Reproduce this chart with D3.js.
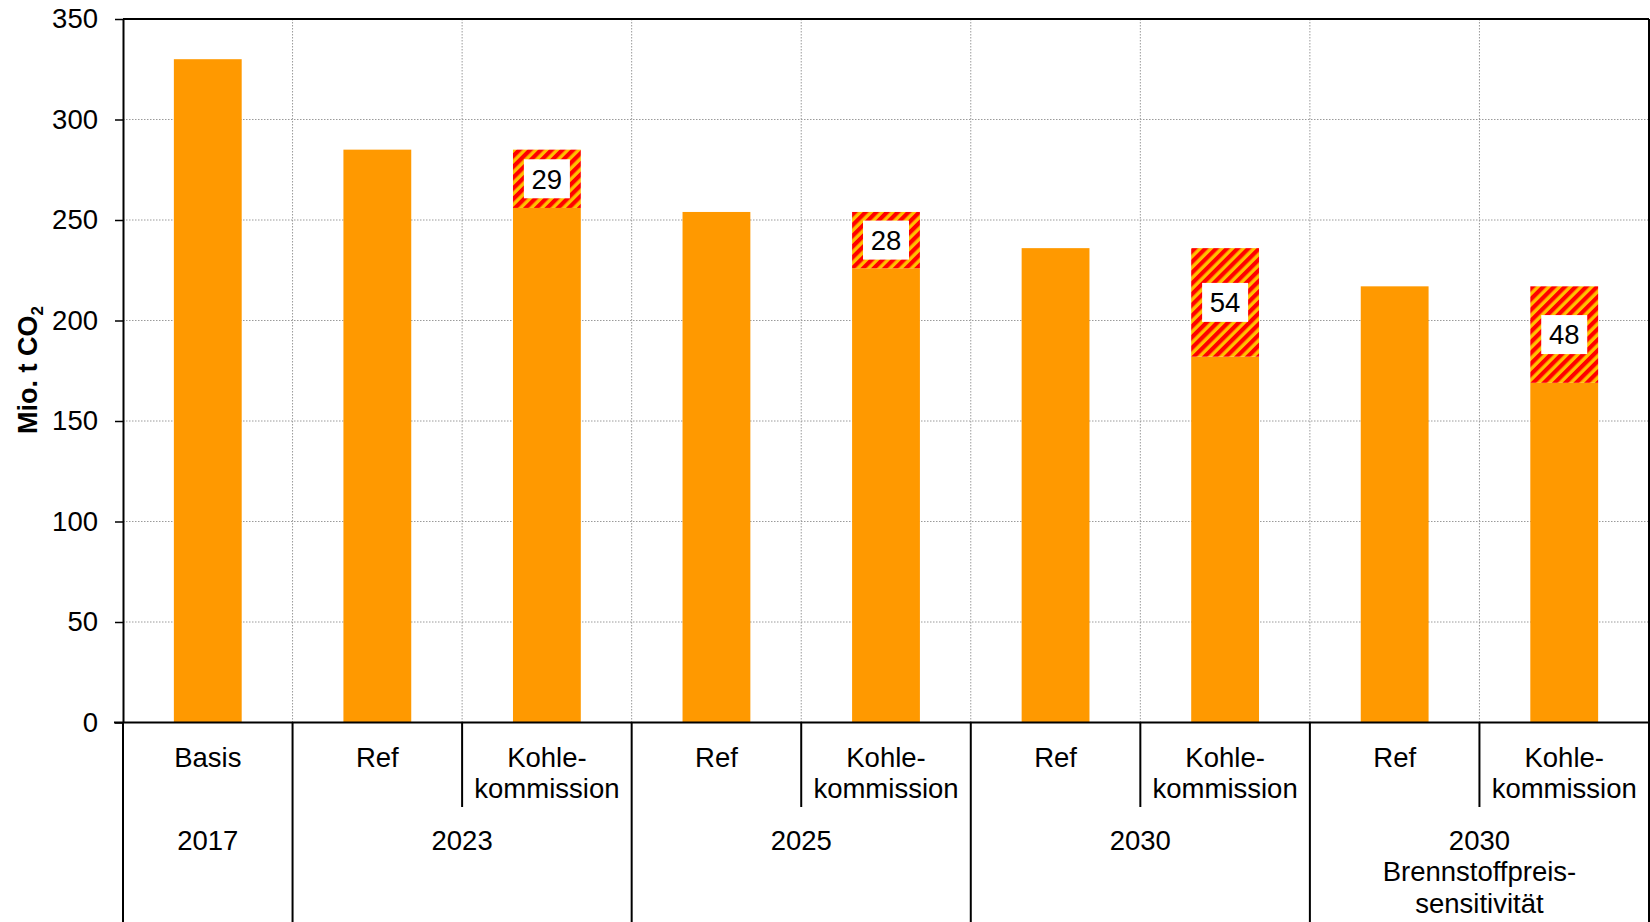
<!DOCTYPE html>
<html>
<head>
<meta charset="utf-8">
<script src="https://cdn.jsdelivr.net/npm/d3@7"></script>
<style>
  body { margin: 0; background: #fff; }
  svg { display: block; font-family: "Liberation Sans", Arial, sans-serif; }
</style>
</head>
<body>
<script>
// scenario label (first row under the axis), one per bar
var scenarios = ["Basis", "Ref", "Kohle-|kommission", "Ref", "Kohle-|kommission",
                 "Ref", "Kohle-|kommission", "Ref", "Kohle-|kommission"]
// year groups (second row) and how many bars each spans
var groupLabels = [["2017"], ["2023"], ["2025"], ["2030"], ["2030", "Brennstoffpreis-", "sensitivität"]]
var groupSpans = [1, 2, 2, 2, 2]
// remaining emissions (orange part) and reduction (hatched part), Mio. t CO2
var baseValues = [330, 285, 256, 254, 226, 236, 182, 217, 169]
var reductionValues = [0, 0, 29, 0, 28, 0, 54, 0, 48]
var yTicks = [0, 50, 100, 150, 200, 250, 300, 350]

var width = 1650, height = 922
var plotL = 123, plotR = 1649, plotT = 19, plotB = 722.5
var fs = 27.5

var svg = d3.select("body").append("svg")
  .attr("width", width)
  .attr("height", height)

var defs = svg.append("defs")
var pat = defs.append("pattern")
  .attr("id", "hatch")
  .attr("patternUnits", "userSpaceOnUse")
  .attr("width", 7.6)
  .attr("height", 7.6)
  .attr("patternTransform", "rotate(45)")
pat.append("rect").attr("width", 7.6).attr("height", 7.6).attr("fill", "#ffc000")
pat.append("rect").attr("width", 4.2).attr("height", 7.6).attr("fill", "#ff0000")

var x = d3.scaleBand()
  .domain(d3.range(scenarios.length))
  .range([plotL, plotR])
  .padding(0)

var y = d3.scaleLinear()
  .domain([0, 350])
  .range([plotB, plotT])

var barW = x.bandwidth() * 0.4

// horizontal grid
svg.append("g").selectAll("line")
  .data(yTicks.filter(function(d){ return d > 0 && d < 350 }))
  .enter().append("line")
  .attr("x1", plotL).attr("x2", plotR)
  .attr("y1", function(d){ return y(d) }).attr("y2", function(d){ return y(d) })
  .attr("stroke", "#9a9a9a")
  .attr("stroke-dasharray", "1.5,1.5")

// vertical grid between categories
svg.append("g").selectAll("line")
  .data(d3.range(1, scenarios.length))
  .enter().append("line")
  .attr("x1", function(i){ return x(i) }).attr("x2", function(i){ return x(i) })
  .attr("y1", plotT).attr("y2", plotB)
  .attr("stroke", "#9a9a9a")
  .attr("stroke-dasharray", "1.5,1.5")

// orange bars
svg.append("g").selectAll("rect")
  .data(baseValues)
  .enter().append("rect")
  .attr("x", function(d, i){ return x(i) + (x.bandwidth() - barW) / 2 })
  .attr("y", function(d){ return y(d) })
  .attr("width", barW)
  .attr("height", function(d){ return y(0) - y(d) })
  .attr("fill", "#ff9900")

// hatched reductions
var red = svg.append("g").selectAll("g")
  .data(reductionValues.map(function(v, i){ return {i: i, v: v, b: baseValues[i]} })
    .filter(function(d){ return d.v > 0 }))
  .enter().append("g")

red.append("rect")
  .attr("x", function(d){ return x(d.i) + (x.bandwidth() - barW) / 2 })
  .attr("y", function(d){ return y(d.b + d.v) })
  .attr("width", barW)
  .attr("height", function(d){ return y(d.b) - y(d.b + d.v) })
  .attr("fill", "url(#hatch)")

red.append("rect")
  .attr("x", function(d){ return x(d.i) + x.bandwidth() / 2 - 23 })
  .attr("y", function(d){ return (y(d.b) + y(d.b + d.v)) / 2 - 19.5 })
  .attr("width", 46)
  .attr("height", 39)
  .attr("fill", "#fff")

red.append("text")
  .attr("x", function(d){ return x(d.i) + x.bandwidth() / 2 })
  .attr("y", function(d){ return (y(d.b) + y(d.b + d.v)) / 2 })
  .attr("dy", "0.36em")
  .attr("text-anchor", "middle")
  .attr("font-size", fs)
  .text(function(d){ return d.v })

// y axis
var yAxis = d3.axisLeft(y).tickValues(yTicks).tickSize(8).tickSizeOuter(0)
var ya = svg.append("g")
  .attr("transform", "translate(" + plotL + ",0)")
  .call(yAxis)
ya.select(".domain").attr("stroke", "#000").attr("stroke-width", 2)
ya.selectAll(".tick line").attr("stroke", "#000").attr("stroke-width", 1.5)
ya.selectAll(".tick text")
  .attr("font-size", fs)
  .attr("font-family", "Liberation Sans, Arial, sans-serif")
  .attr("fill", "#000")
  .attr("x", -25)

// y title
var yt = svg.append("text")
  .attr("transform", "translate(37,370) rotate(-90)")
  .attr("text-anchor", "middle")
  .attr("font-size", 27)
  .attr("font-weight", "bold")
yt.append("tspan").text("Mio. t CO")
yt.append("tspan").attr("font-size", 17).attr("dy", 6).text("2")

// frame top and right
svg.append("line").attr("x1", plotL).attr("x2", plotR).attr("y1", plotT).attr("y2", plotT)
  .attr("stroke", "#000").attr("stroke-width", 2)
svg.append("line").attr("x1", plotR).attr("x2", plotR).attr("y1", plotT).attr("y2", height)
  .attr("stroke", "#000").attr("stroke-width", 2)

// x axis line
svg.append("line").attr("x1", 114).attr("x2", plotR).attr("y1", plotB).attr("y2", plotB)
  .attr("stroke", "#000").attr("stroke-width", 2)

// group separators (full height below axis)
var cum = [0]
groupSpans.forEach(function(s){ cum.push(cum[cum.length - 1] + s) })
svg.append("g").selectAll("line")
  .data(cum.slice(0, cum.length - 1))
  .enter().append("line")
  .attr("x1", function(k){ return x(k) }).attr("x2", function(k){ return x(k) })
  .attr("y1", plotB).attr("y2", height)
  .attr("stroke", "#000").attr("stroke-width", 2)

// separators inside groups (first row only)
var inner = d3.range(1, scenarios.length).filter(function(k){ return cum.indexOf(k) < 0 })
svg.append("g").selectAll("line")
  .data(inner)
  .enter().append("line")
  .attr("x1", function(k){ return x(k) }).attr("x2", function(k){ return x(k) })
  .attr("y1", plotB).attr("y2", 807)
  .attr("stroke", "#000").attr("stroke-width", 2)

// scenario labels
var lineH = 31.5
svg.append("g").selectAll("text")
  .data(scenarios)
  .enter().append("text")
  .attr("text-anchor", "middle")
  .attr("font-size", fs)
  .each(function(d, i){
    var t = d3.select(this)
    d.split("|").forEach(function(s, j){
      t.append("tspan")
        .attr("x", x(i) + x.bandwidth() / 2)
        .attr("y", 757 + j * lineH)
        .attr("dy", "0.36em")
        .text(s)
    })
  })

// group labels
svg.append("g").selectAll("text")
  .data(groupLabels)
  .enter().append("text")
  .attr("text-anchor", "middle")
  .attr("font-size", fs)
  .each(function(d, gi){
    var t = d3.select(this)
    var cx = (x(cum[gi]) + x(cum[gi + 1] - 1) + x.bandwidth()) / 2
    d.forEach(function(s, j){
      t.append("tspan")
        .attr("x", cx)
        .attr("y", 840 + j * lineH)
        .attr("dy", "0.36em")
        .text(s)
    })
  })
</script>
</body>
</html>
